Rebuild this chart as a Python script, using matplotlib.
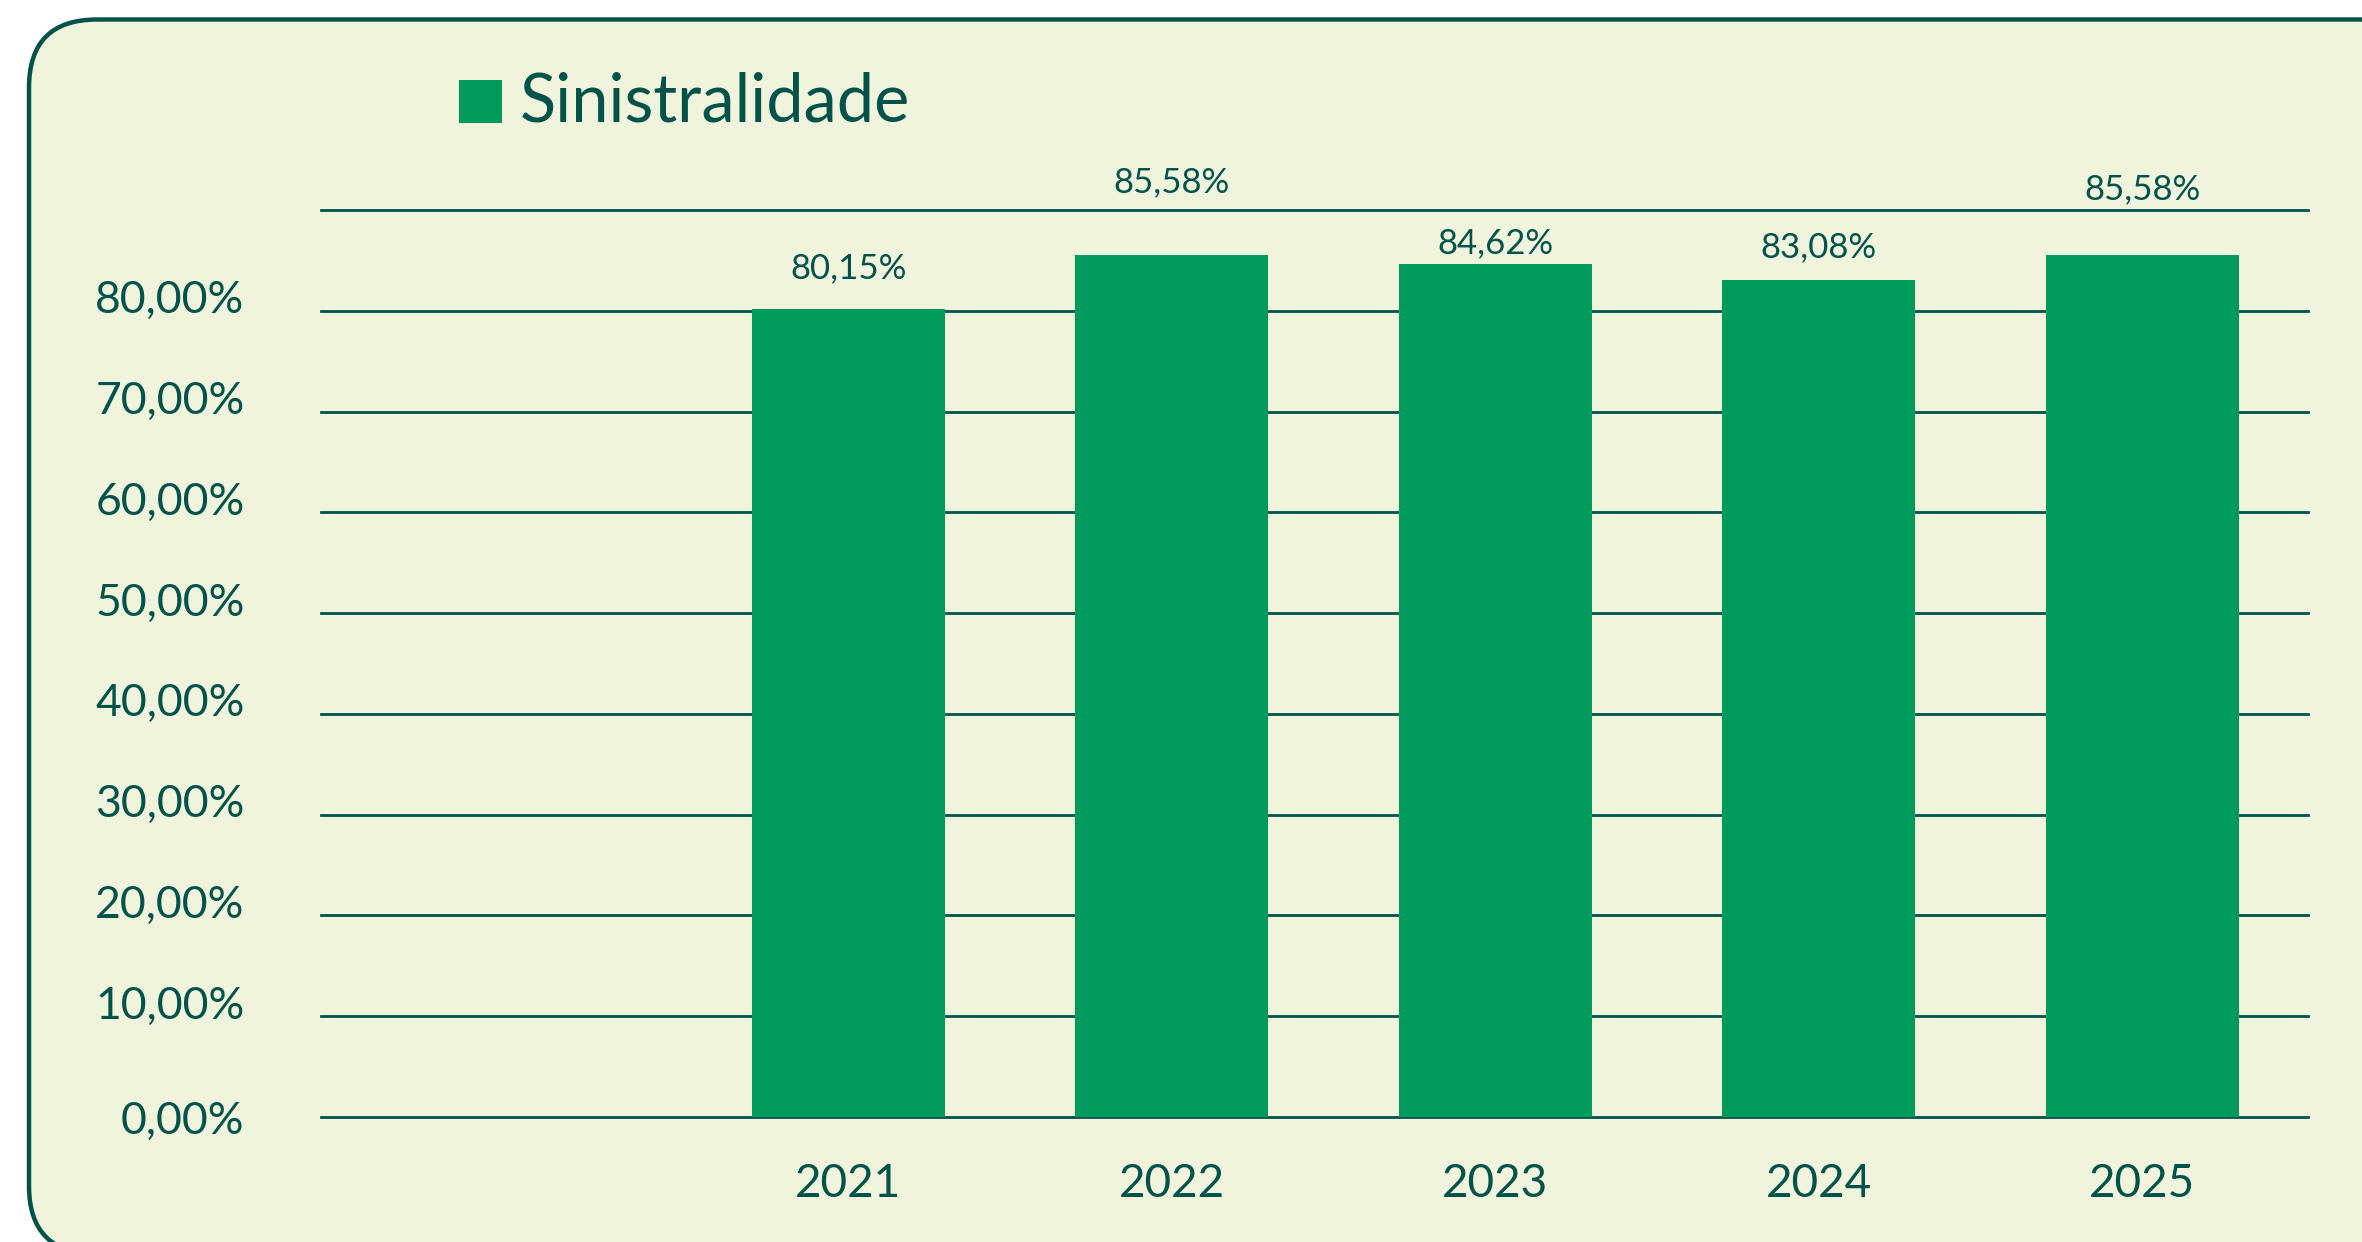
import matplotlib
matplotlib.use("Agg")
import matplotlib.pyplot as plt
from matplotlib.patches import FancyBboxPatch, Rectangle
from matplotlib.transforms import ScaledTranslation

# ---- data ----
categories = ["2021", "2022", "2023", "2024", "2025"]
values = [80.15, 85.58, 84.62, 83.08, 85.58]
value_labels = ["80,15%", "85,58%", "84,62%", "83,08%", "85,58%"]
ytick_values = [0, 10, 20, 30, 40, 50, 60, 70, 80, 90]
ytick_labels = ["0,00%", "10,00%", "20,00%", "30,00%", "40,00%",
                "50,00%", "60,00%", "70,00%", "80,00%", ""]
series_name = "Sinistralidade"

# label offsets above bar tops (points), as they appear in the reference
label_offsets = [22, 45, 8, 16, 40]

# ---- style ----
BG = "#F0F4DD"
BAR = "#009A5C"
DARK = "#00524A"
FONT = ["Lato", "DejaVu Sans"]
plt.rcParams["font.family"] = FONT

W, H, DPI = 2362, 1242, 100
fig = plt.figure(figsize=(W / DPI, H / DPI), dpi=DPI)
fig.patch.set_facecolor("white")

# rounded panel (pixel coordinates)
panel = FancyBboxPatch((29, -12), 2400, 1222.5 + 12,
                       boxstyle="round,pad=0,rounding_size=68",
                       transform=None, facecolor=BG, edgecolor=DARK,
                       linewidth=3.2, zorder=-5)
fig.patches.append(panel)

ax = fig.add_axes([321 / W, 1 - 1117 / H, (2308 - 321) / W, (1117 - 210) / H])
ax.set_facecolor("none")
ax.set_zorder(2)
x = list(range(len(categories)))
bars = ax.bar(x, values, width=0.597, color=BAR, zorder=3)

ax.set_xlim(-1.631, 4.513)
ax.set_ylim(0, 90)
ax.set_yticks(ytick_values)
ax.set_yticklabels(ytick_labels)
ax.set_xticks(x)
ax.set_xticklabels(categories)
ax.yaxis.grid(True, color=DARK, linewidth=2.0, zorder=1)
ax.set_axisbelow(True)
for gl in ax.get_ygridlines():
    gl.set_clip_on(False)
for s in ax.spines.values():
    s.set_visible(False)
ax.tick_params(axis="y", length=0, pad=55, labelsize=32, labelcolor=DARK)
ax.tick_params(axis="x", length=0, pad=33, labelsize=33, labelcolor=DARK)

# y labels (except 0) sit slightly above their gridlines in the reference
shift = ScaledTranslation(0, 14 / DPI, fig.dpi_scale_trans)
for lab in ax.get_yticklabels()[1:]:
    lab.set_transform(lab.get_transform() + shift)

for xi, v, lab, off in zip(x, values, value_labels, label_offsets):
    ax.annotate(lab, (xi, v), xytext=(0, off), textcoords="offset points",
                ha="center", va="baseline", fontsize=25, color=DARK)

# legend (manual)
fig.patches.append(Rectangle((459, H - 123), 43, 43, transform=None,
                             facecolor=BAR, edgecolor="none", zorder=5))
fig.text(520 / W, 1 - 122 / H, series_name, fontsize=48, color=DARK,
         ha="left", va="baseline")

fig.savefig("out.png", dpi=DPI, facecolor=fig.get_facecolor())
